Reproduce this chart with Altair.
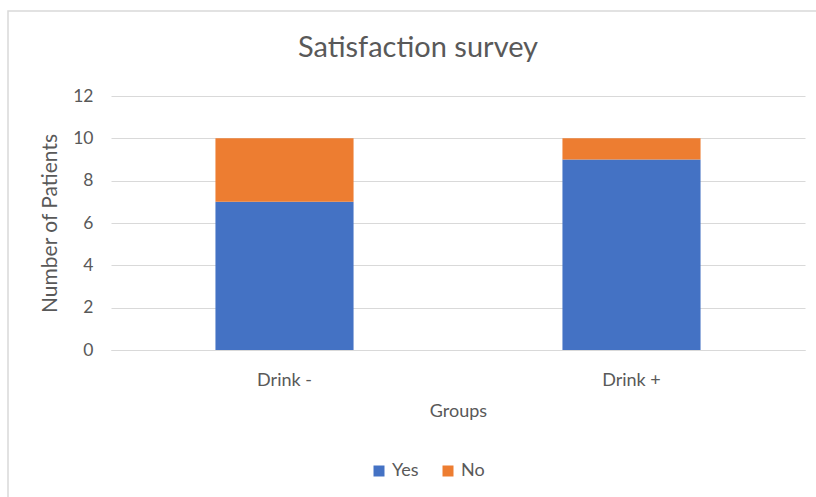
import altair as alt
import pandas as pd

groups = ["Drink -", "Drink +"]
answers = ["Yes", "No"]
yes_counts = [7, 9]
no_counts = [3, 1]
colors = ["#4472C4", "#ED7D31"]

rows = []
for g, y, n in zip(groups, yes_counts, no_counts):
    rows.append({"Group": g, "Answer": "Yes", "Count": y, "ord": 0})
    rows.append({"Group": g, "Answer": "No", "Count": n, "ord": 1})
df = pd.DataFrame(rows)

FONT = "Lato"
TXT = "#595959"
GRID = "#d9d9d9"

bars = alt.Chart(df).mark_bar(width=alt.RelativeBandSize(0.398)).encode(
    x=alt.X("Group:N", sort=groups, title="Groups",
            scale=alt.Scale(paddingInner=0, paddingOuter=0),
            axis=alt.Axis(labelAngle=0, ticks=False, domain=True, domainColor=GRID,
                          labelFontSize=18, labelPadding=21, titleFontSize=18,
                          titlePadding=13, labelColor=TXT, titleColor=TXT,
                          labelFont=FONT, titleFont=FONT, titleFontWeight="normal")),
    y=alt.Y("Count:Q", stack="zero", title="Number of Patients",
            scale=alt.Scale(domain=[0, 12]),
            axis=alt.Axis(values=[0, 2, 4, 6, 8, 10, 12], ticks=False, domain=False,
                          gridColor=GRID, labelFontSize=17.5, labelPadding=18,
                          titleFontSize=21, titlePadding=12, labelColor=TXT, titleColor=TXT,
                          labelFont=FONT, titleFont=FONT, titleFontWeight="normal")),
    color=alt.Color("Answer:N", sort=answers,
                    scale=alt.Scale(domain=answers, range=colors),
                    legend=alt.Legend(title=None, orient="none", direction="horizontal",
                                      legendX=259, legendY=366, symbolType="square",
                                      symbolSize=121, symbolStrokeWidth=0, labelFontSize=18,
                                      labelOffset=4, labelColor=TXT, labelFont=FONT,
                                      columnPadding=20, symbolOpacity=1)),
    order=alt.Order("ord:Q"),
)

border = alt.Chart(alt.Data(values=[{}])).mark_rect(
    filled=False, stroke=GRID, strokeWidth=1.5
).encode(
    x=alt.value(-103), x2=alt.value(720), y=alt.value(-85), y2=alt.value(420)
)

chart = alt.layer(border, bars).properties(
    width=694, height=254,
    title=alt.TitleParams("Satisfaction survey", fontSize=29, font=FONT, color=TXT,
                          fontWeight="normal", anchor="middle", dx=-40, dy=76,
                          offset=0, baseline="alphabetic"),
    padding={"left": 111, "top": 96, "right": 11, "bottom": 147},
    autosize=alt.AutoSizeParams(type="none"),
).configure_view(stroke=None)

chart.save("out.html", embed_options={"renderer": "svg", "actions": False})
